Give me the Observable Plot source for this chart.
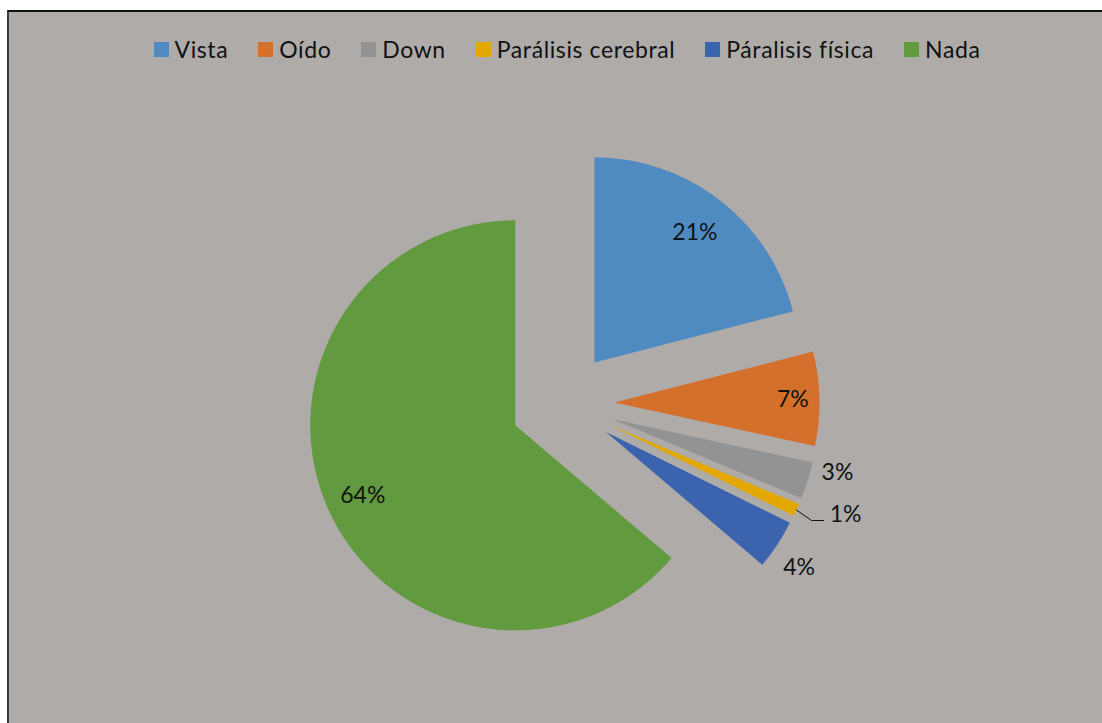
<!DOCTYPE html>
<html><head><meta charset="utf-8">
<script src="https://cdn.jsdelivr.net/npm/d3@7"></script>
<script src="https://cdn.jsdelivr.net/npm/@observablehq/plot@0.6"></script>
<style>
html,body{margin:0;padding:0;background:#fff;overflow:hidden;width:1102px;height:723px}
#frame{position:absolute;left:7px;top:10px;width:1300px;height:900px;background:#AFABA9;border-top:2px solid #111;border-left:2px solid #3a3a3a;}
#legend{position:absolute;left:0;top:35px;width:1134px;display:flex;justify-content:center;font-family:Lato,"Open Sans",sans-serif;font-size:23px;color:#111;line-height:28px;letter-spacing:0.6px}
.item{display:flex;align-items:center;margin:0 15px}
.sw{width:15px;height:15px;margin-right:6px}
#chart{position:absolute;left:0;top:80px}
</style></head><body>
<div id="frame"></div>
<div id="legend"></div>
<div id="chart"></div>
<script>
// ---- data ----
const categories = ["Vista", "Oído", "Down", "Parálisis cerebral", "Páralisis física", "Nada"];
const values = [21.0, 7.4, 2.9, 1.0, 3.9, 63.8];
const colors = ["#4F8BC0", "#D4702C", "#939393", "#E2A800", "#3B63AE", "#629B3F"];

// ---- layout ----
const W = 1102, H = 643, R = 205, cx = 562, cy = 323;
const explode = 52 / R;
const labelPlacement = {
  "Vista": {r: 0.80, da: 0},
  "Oído": {r: 0.87, da: 0},
  "Down": {r: 1.13, da: -4.1},
  "Parálisis cerebral": {r: 1.23, da: -3.7},
  "Páralisis física": {r: 1.15, da: 1.7},
  "Nada": {r: 0.82, da: 0}
};

const data = categories.map((name, i) => ({name, value: values[i]}));
const total = d3.sum(values);
const arcs = d3.pie().sort(null).value(d => d.value)(data);

const pts = [];
const labels = [];
let leader = [];
arcs.forEach(a => {
  const name = a.data.name;
  const mid = (a.startAngle + a.endAngle) / 2;
  const ox = explode * Math.sin(mid), oy = explode * Math.cos(mid);
  pts.push({name, x: ox, y: oy});
  const n = Math.max(4, Math.ceil((a.endAngle - a.startAngle) / 0.01));
  for (let k = 0; k <= n; k++) {
    const t = a.startAngle + (a.endAngle - a.startAngle) * k / n;
    pts.push({name, x: ox + Math.sin(t), y: oy + Math.cos(t)});
  }
  const lp = labelPlacement[name];
  const la = mid + lp.da * Math.PI / 180;
  const lx = ox + lp.r * Math.sin(la), ly = oy + lp.r * Math.cos(la);
  labels.push({name, x: lx, y: ly, text: Math.round(a.data.value / total * 100) + "%"});
  if (name === "Parálisis cerebral") {
    leader = [
      {x: ox + Math.sin(mid), y: oy + Math.cos(mid)},
      {x: lx - 34 / R, y: ly - 6 / R},
      {x: lx - 22 / R, y: ly - 6 / R}
    ];
  }
});

const chart = Plot.plot({
  width: W, height: H,
  margin: 0,
  style: {background: "transparent"},
  x: {domain: [-cx / R, (W - cx) / R], axis: null},
  y: {domain: [-(H - cy) / R, cy / R], axis: null},
  color: {domain: categories, range: colors},
  marks: [
    Plot.line(pts, {x: "x", y: "y", z: "name", fill: "name", stroke: "none", curve: "linear-closed"}),
    Plot.line(leader, {x: "x", y: "y", stroke: "#111", strokeWidth: 1}),
    Plot.text(labels, {x: "x", y: "y", text: "text", fontSize: 23, fontFamily: "Lato", fill: "#111"})
  ]
});
document.getElementById("chart").appendChild(chart);

const legend = document.getElementById("legend");
categories.forEach((c, i) => {
  const it = document.createElement("div");
  it.className = "item";
  const sw = document.createElement("span");
  sw.className = "sw";
  sw.style.background = colors[i];
  const tx = document.createElement("span");
  tx.textContent = c;
  it.appendChild(sw); it.appendChild(tx);
  legend.appendChild(it);
});
</script>
</body></html>
